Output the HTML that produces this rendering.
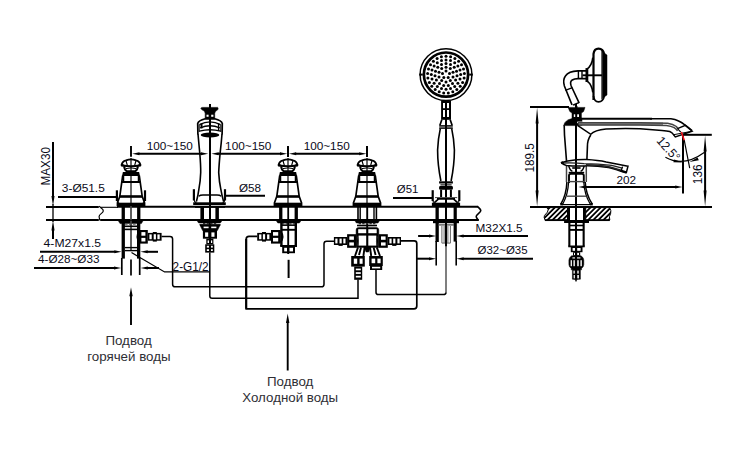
<!DOCTYPE html>
<html lang="ru"><head><meta charset="utf-8"><title>Схема</title>
<style>
html,body{margin:0;padding:0;background:#fff;}
body{width:744px;height:453px;overflow:hidden;}
svg{display:block;font-family:"Liberation Sans",sans-serif;}
</style></head><body>
<svg width="744" height="453" viewBox="0 0 744 453">
<rect x="0" y="0" width="744" height="453" fill="#fff" stroke="none"/>
<line x1="46" y1="207" x2="98.8" y2="207" stroke="#000" stroke-width="2.0" />
<line x1="100.4" y1="207.3" x2="118" y2="207.3" stroke="#000" stroke-width="1.1" />
<line x1="117" y1="206.7" x2="478" y2="206.7" stroke="#000" stroke-width="1.9" />
<line x1="46" y1="220" x2="98.8" y2="220" stroke="#000" stroke-width="2.0" />
<line x1="100.2" y1="220" x2="478.8" y2="220" stroke="#000" stroke-width="1.9" />
<path d="M99.2 206.2 C100.4 208 103.6 208.6 103.3 211 C103 213.4 99 214 99.1 216.4 C99.2 218 99.6 219 99.9 220.4" stroke="#000" stroke-width="1.2" fill="none" />
<path d="M477.4 206.3 L480.5 209.6 Q481.2 210.6 480.2 211.8 L476.6 215.4 Q475.8 216.6 476.6 217.8 L478.4 220.4" stroke="#000" stroke-width="1.6" fill="none" />
<line x1="53" y1="142" x2="53" y2="198" stroke="#000" stroke-width="2.0" />
<line x1="53" y1="204" x2="53" y2="222" stroke="#000" stroke-width="1.3" />
<polygon points="53,206 51.45,196 54.55,196" fill="#000"/>
<line x1="53" y1="229" x2="53" y2="239" stroke="#000" stroke-width="2.0" />
<polygon points="53,220.6 51.45,230.6 54.55,230.6" fill="#000"/>
<text x="0" y="0" font-size="12.3" textLength="38.3" lengthAdjust="spacingAndGlyphs" fill="#0a0a18" transform="translate(50.4 185.4) rotate(-90)">MAX30</text>
<line x1="131" y1="146" x2="131" y2="156.8" stroke="#000" stroke-width="1.9" />
<line x1="131" y1="158" x2="131" y2="206" stroke="#444" stroke-width="1.6" />
<path d="M121.7 165 Q122 161.6 126 160.4 Q131 158.2 136 160.4 Q140 161.6 140.3 165" stroke="#000" stroke-width="1.8" fill="none" />
<path d="M121.6 165.3 Q131 167.3 140.4 165.3" stroke="#000" stroke-width="2.0" fill="none" />
<circle cx="122.1" cy="165" r="1.5" fill="#000"/><circle cx="139.9" cy="165" r="1.5" fill="#000"/>
<path d="M126 160.6 L127.4 165.6 M136 160.6 L134.6 165.6" stroke="#000" stroke-width="1.2" fill="none" />
<path d="M124.1 166.2 Q124.4 170 127 171.3 H135 Q137.6 170 137.9 166.2" stroke="#000" stroke-width="2.0" fill="none" />
<path d="M126 168.6 Q131 167.2 136 168.6" stroke="#000" stroke-width="1.0" fill="none" />
<polygon points="122.9,171.9 139.1,171.9 140,175.9 122,175.9" fill="#000"/>
<path d="M122.7 175.6 L119.8 196.4 L117.4 203 M139.3 175.6 L142.2 196.4 L144.6 203" stroke="#000" stroke-width="1.7" fill="none" />
<line x1="123.6" y1="175.6" x2="123.6" y2="182" stroke="#000" stroke-width="1.3" />
<line x1="138.4" y1="175.6" x2="138.4" y2="182" stroke="#000" stroke-width="1.3" />
<line x1="121.8" y1="182" x2="140.2" y2="182" stroke="#000" stroke-width="2.0" />
<line x1="120" y1="196.5" x2="142" y2="196.5" stroke="#000" stroke-width="2.6" />
<rect x="116.6" y="202.7" width="28.8" height="3.3" fill="#000"/>
<line x1="116.9" y1="190.3" x2="116.9" y2="201" stroke="#000" stroke-width="2.2" />
<line x1="145" y1="190.3" x2="145" y2="201" stroke="#000" stroke-width="2.2" />
<path d="M116.9 200 q0.4 2.6 2.4 3.6 M145 200 q-0.4 2.6 -2.4 3.6" stroke="#000" stroke-width="1.2" fill="none" />
<rect x="121.6" y="206" width="3.3" height="15" fill="#000"/>
<rect x="137.1" y="206" width="3.3" height="15" fill="#000"/>
<line x1="131" y1="206" x2="131" y2="221" stroke="#444" stroke-width="1.7" />
<path d="M118.2 220.6 H143.2 L141.4 223.6 H120 z" stroke="#000" stroke-width="0.5" fill="#000" />
<rect x="121.6" y="222" width="3.3" height="36.6" fill="#000"/>
<rect x="137" y="222" width="3.3" height="36.6" fill="#000"/>
<line x1="131" y1="221" x2="131" y2="251" stroke="#444" stroke-width="1.7" />
<line x1="125" y1="224.2" x2="137" y2="224.2" stroke="#555" stroke-width="1.0" stroke-dasharray="2.6 1.4"/>
<line x1="124" y1="226.3" x2="138" y2="226.3" stroke="#000" stroke-width="1.6" />
<line x1="124" y1="229.4" x2="138" y2="229.4" stroke="#000" stroke-width="1.6" />
<line x1="125" y1="247.6" x2="137" y2="247.6" stroke="#000" stroke-width="1.4" />
<line x1="125" y1="250.6" x2="137" y2="250.6" stroke="#000" stroke-width="1.4" />
<line x1="121.8" y1="258" x2="121.8" y2="275" stroke="#000" stroke-width="1.7" />
<line x1="139.7" y1="258" x2="139.7" y2="275" stroke="#000" stroke-width="1.7" />
<line x1="131" y1="259.5" x2="131" y2="275.5" stroke="#000" stroke-width="1.7" />
<rect x="139.4" y="230" width="8.4" height="13.6" fill="#000"/>
<rect x="141.4" y="232.1" width="4" height="3.6" fill="#fff"/>
<rect x="141.4" y="237.9" width="4" height="3.6" fill="#fff"/>
<path d="M139.4 231.2 q-4.2 5.6 0 11.2" stroke="#000" stroke-width="1.6" fill="none" />
<rect x="147.8" y="232.9" width="13.8" height="7.8" fill="#000"/>
<rect x="149.4" y="234.4" width="2.3" height="4.8" fill="#fff"/>
<rect x="153.4" y="234.4" width="2.3" height="4.8" fill="#fff"/>
<rect x="157.4" y="234.4" width="2.3" height="4.8" fill="#fff"/>
<rect x="152.8" y="232" width="4" height="9.6" fill="#000"/>
<rect x="153.7" y="234.2" width="2.2" height="5.2" fill="#fff"/>
<text x="61.8" y="192" font-size="11.5" textLength="43" lengthAdjust="spacingAndGlyphs" fill="#0a0a18">3-Ø51.5</text>
<line x1="58" y1="197" x2="117" y2="197" stroke="#000" stroke-width="2.0" />
<text x="43.6" y="247.3" font-size="11.5" textLength="57.5" lengthAdjust="spacingAndGlyphs" fill="#0a0a18">4-M27x1.5</text>
<line x1="40" y1="251.8" x2="115" y2="251.8" stroke="#000" stroke-width="2.0" />
<polygon points="121.6,251.8 114.4,250.25 114.4,253.35" fill="#000"/>
<polygon points="140.4,251.8 147.6,250.25 147.6,253.35" fill="#000"/>
<line x1="147" y1="251.8" x2="158" y2="251.8" stroke="#000" stroke-width="2.0" />
<text x="38" y="262.8" font-size="11.5" textLength="61.5" lengthAdjust="spacingAndGlyphs" fill="#0a0a18">4-Ø28~Ø33</text>
<line x1="34" y1="268" x2="115" y2="268" stroke="#000" stroke-width="2.0" />
<polygon points="121.2,268 114,266.45 114,269.55" fill="#000"/>
<polygon points="140.6,268 147.8,266.45 147.8,269.55" fill="#000"/>
<line x1="147" y1="268" x2="159" y2="268" stroke="#000" stroke-width="2.0" />
<path d="M131.5 252.6 L164.6 271.9 H209.6" stroke="#000" stroke-width="1.2" fill="none" />
<text x="172.6" y="270.6" font-size="12" textLength="36" lengthAdjust="spacingAndGlyphs" fill="#0a0a18">2-G1/2</text>
<line x1="131" y1="294" x2="131" y2="325" stroke="#000" stroke-width="1.9" />
<polygon points="131,287.3 129.3,296.3 132.7,296.3" fill="#000"/>
<line x1="139" y1="153.7" x2="201.5" y2="153.7" stroke="#000" stroke-width="2.0" />
<polygon points="132.2,153.7 139.4,152.15 139.4,155.25" fill="#000"/>
<polygon points="208.2,153.7 201,152.15 201,155.25" fill="#000"/>
<line x1="218" y1="153.7" x2="281" y2="153.7" stroke="#000" stroke-width="2.0" />
<polygon points="211.4,153.7 218.6,152.15 218.6,155.25" fill="#000"/>
<polygon points="287.2,153.7 280,152.15 280,155.25" fill="#000"/>
<line x1="295" y1="153.7" x2="360" y2="153.7" stroke="#000" stroke-width="2.0" />
<polygon points="289,153.7 296.2,152.15 296.2,155.25" fill="#000"/>
<polygon points="366.4,153.7 359.2,152.15 359.2,155.25" fill="#000"/>
<text x="146.8" y="150" font-size="11.5" textLength="46" lengthAdjust="spacingAndGlyphs" fill="#0a0a18">100~150</text>
<text x="225.1" y="150" font-size="11.5" textLength="46.2" lengthAdjust="spacingAndGlyphs" fill="#0a0a18">100~150</text>
<text x="303.7" y="150" font-size="11.5" textLength="46" lengthAdjust="spacingAndGlyphs" fill="#0a0a18">100~150</text>
<line x1="210" y1="104" x2="210" y2="239" stroke="#000" stroke-width="2.0" />
<path d="M200.9 108.6 Q201 107.4 202.4 107.4 H217.6 Q218 107.4 218.1 108.6 Q218 110.2 216.6 110.6 Q214.8 111.6 214.7 113.5 V118 H205.2 V113.5 Q205.2 111.6 203.4 110.6 Q202 110.2 200.9 108.6z" stroke="#000" stroke-width="0.6" fill="#000" />
<rect x="206.5" y="114.7" width="2.1" height="2.1" fill="#fff"/>
<rect x="211.2" y="114.7" width="2.2" height="2.1" fill="#fff"/>
<path d="M197.9 134.4 L197.7 123.4 Q198.6 120.6 205.2 118.8 H214.8 Q221.4 120.6 222.3 123.4 L222.1 134.4" stroke="#000" stroke-width="1.7" fill="none" />
<path d="M199.4 124.6 Q210 119.2 220.6 124.6" stroke="#000" stroke-width="1.2" fill="none" />
<path d="M200.2 127.8 Q210 123.8 219.8 127.8" stroke="#000" stroke-width="1.4" fill="none" />
<path d="M199.4 131.2 Q210 128.2 220.6 131.2" stroke="#000" stroke-width="1.4" fill="none" />
<line x1="201.5" y1="123.4" x2="201.5" y2="128.4" stroke="#000" stroke-width="2.0" />
<line x1="218.6" y1="123.4" x2="218.6" y2="131" stroke="#000" stroke-width="1.4" />
<line x1="199.2" y1="124.6" x2="199.2" y2="132" stroke="#000" stroke-width="1.0" />
<line x1="220.8" y1="124.6" x2="220.8" y2="132" stroke="#000" stroke-width="1.0" />
<ellipse cx="210" cy="135" rx="9.3" ry="2.6" fill="#000"/>
<path d="M198 134 Q198.7 142 199.8 153.3 Q200.8 165 200.7 172.6 Q200.4 182 198.9 189.2 Q198 196 196.4 201.6" stroke="#000" stroke-width="1.6" fill="none" />
<path d="M222 134 Q221.4 142 220.1 153.3 Q219 165 218.7 172.6 Q219.2 182 220.8 189.2 Q222 196 223.6 201.6" stroke="#000" stroke-width="1.6" fill="none" />
<path d="M198.8 196.2 Q200 195 203 195 H217 Q220 195 221.2 196.2" stroke="#000" stroke-width="1.5" fill="none" />
<rect x="193.2" y="202.3" width="32.6" height="2.7" fill="#000"/>
<line x1="195" y1="206.9" x2="225" y2="206.9" stroke="#000" stroke-width="1.8" />
<line x1="193.9" y1="189.2" x2="193.9" y2="200.4" stroke="#000" stroke-width="2.2" />
<line x1="225" y1="189.2" x2="225" y2="200.4" stroke="#000" stroke-width="2.2" />
<path d="M193.9 199.4 q0.4 2.6 2.4 3.6 M225 199.4 q-0.4 2.6 -2.4 3.6" stroke="#000" stroke-width="1.2" fill="none" />
<text x="239" y="191.8" font-size="11.5" textLength="22" lengthAdjust="spacingAndGlyphs" fill="#0a0a18">Ø58</text>
<line x1="225.5" y1="195.8" x2="265" y2="195.8" stroke="#000" stroke-width="2.0" />
<rect x="200.4" y="207" width="3.6" height="14" fill="#000"/>
<rect x="215.4" y="207" width="3.5" height="14" fill="#000"/>
<path d="M197 220.6 H222 L220.4 223 H198.6z" stroke="#000" stroke-width="0.5" fill="#000" />
<line x1="203" y1="223.7" x2="217" y2="223.7" stroke="#333" stroke-width="1.2" stroke-dasharray="2.4 1.2"/>
<rect x="200" y="224.5" width="20.2" height="1.5" fill="#000"/>
<path d="M199.6 224.5 H220.4 L217.4 230.6 H202.6z" stroke="#000" stroke-width="0.5" fill="#000" />
<line x1="203.4" y1="228.2" x2="216.6" y2="228.2" stroke="#000" stroke-width="0.01" />
<rect x="202.9" y="229.7" width="14.1" height="9" fill="#000"/>
<rect x="205.1" y="232.4" width="3.1" height="4.4" fill="#fff"/>
<rect x="211.4" y="232.4" width="3.1" height="4.4" fill="#fff"/>
<rect x="203.6" y="226.6" width="5" height="1.6" fill="#fff"/>
<rect x="211.2" y="226.6" width="5.2" height="1.6" fill="#fff"/>
<rect x="206.3" y="238.7" width="7.1" height="5.6" fill="#000"/>
<rect x="207.6" y="240.4" width="1.4" height="2.6" fill="#fff"/>
<rect x="211" y="240.4" width="1.2" height="2.6" fill="#fff"/>
<rect x="205.2" y="244.3" width="9.1" height="8.3" fill="#000"/>
<rect x="206.8" y="245.8" width="2.2" height="1.8" fill="#fff"/>
<rect x="211" y="245.8" width="1.8" height="1.8" fill="#fff"/>
<rect x="206.8" y="249.2" width="2.2" height="1.8" fill="#fff"/>
<rect x="211" y="249.2" width="1.8" height="1.8" fill="#fff"/>
<path d="M209.8 252.6 V296 q0 2.3 2.3 2.3 H358 V279.5" stroke="#000" stroke-width="1.5" fill="none" />
<line x1="288" y1="146" x2="288" y2="156.8" stroke="#000" stroke-width="1.9" />
<line x1="288" y1="158" x2="288" y2="206" stroke="#444" stroke-width="1.6" />
<path d="M278.7 165 Q279 161.6 283 160.4 Q288 158.2 293 160.4 Q297 161.6 297.3 165" stroke="#000" stroke-width="1.8" fill="none" />
<path d="M278.6 165.3 Q288 167.3 297.4 165.3" stroke="#000" stroke-width="2.0" fill="none" />
<circle cx="279.1" cy="165" r="1.5" fill="#000"/><circle cx="296.9" cy="165" r="1.5" fill="#000"/>
<path d="M283 160.6 L284.4 165.6 M293 160.6 L291.6 165.6" stroke="#000" stroke-width="1.2" fill="none" />
<path d="M281.1 166.2 Q281.4 170 284 171.3 H292 Q294.6 170 294.9 166.2" stroke="#000" stroke-width="2.0" fill="none" />
<path d="M283 168.6 Q288 167.2 293 168.6" stroke="#000" stroke-width="1.0" fill="none" />
<polygon points="279.9,171.9 296.1,171.9 297,175.9 279,175.9" fill="#000"/>
<path d="M279.7 175.6 L276.8 196.4 L274.4 203 M296.3 175.6 L299.2 196.4 L301.6 203" stroke="#000" stroke-width="1.7" fill="none" />
<line x1="280.6" y1="175.6" x2="280.6" y2="182" stroke="#000" stroke-width="1.3" />
<line x1="295.4" y1="175.6" x2="295.4" y2="182" stroke="#000" stroke-width="1.3" />
<line x1="278.8" y1="182" x2="297.2" y2="182" stroke="#000" stroke-width="2.0" />
<line x1="277" y1="196.5" x2="299" y2="196.5" stroke="#000" stroke-width="2.6" />
<rect x="273.6" y="202.7" width="28.8" height="3.3" fill="#000"/>
<rect x="279.1" y="206" width="3.3" height="15" fill="#000"/>
<rect x="294.6" y="206" width="3.3" height="15" fill="#000"/>
<line x1="288.2" y1="206" x2="288.2" y2="221" stroke="#000" stroke-width="1.8" />
<path d="M276.2 220.6 H301 L299.4 223 H277.8z" stroke="#000" stroke-width="0.5" fill="#000" />
<line x1="282" y1="223.8" x2="296" y2="223.8" stroke="#333" stroke-width="1.2" stroke-dasharray="2.4 1.2"/>
<rect x="280.2" y="222" width="2.4" height="24" fill="#000"/>
<rect x="294.6" y="222" width="2.4" height="24" fill="#000"/>
<line x1="282" y1="225.2" x2="295" y2="225.2" stroke="#000" stroke-width="1.5" />
<line x1="282" y1="229.8" x2="295" y2="229.8" stroke="#000" stroke-width="1.9" />
<line x1="280.2" y1="246" x2="297" y2="246" stroke="#000" stroke-width="2.0" />
<rect x="282.2" y="246" width="12.8" height="7.2" fill="#000"/>
<rect x="284.2" y="247.8" width="2.8" height="3.6" fill="#fff"/>
<rect x="289.4" y="247.8" width="3.6" height="3.6" fill="#fff"/>
<line x1="288.2" y1="221" x2="288.2" y2="254" stroke="#000" stroke-width="1.9" />
<rect x="271" y="230" width="9.6" height="13.6" fill="#000"/>
<rect x="273" y="232.1" width="5.2" height="3.6" fill="#fff"/>
<rect x="273" y="237.9" width="5.2" height="3.6" fill="#fff"/>
<path d="M280.6 231.2 q4.2 5.6 0 11.2" stroke="#000" stroke-width="1.6" fill="none" />
<rect x="257.2" y="232.9" width="13.8" height="7.8" fill="#000"/>
<rect x="267.1" y="234.4" width="2.3" height="4.8" fill="#fff"/>
<rect x="263.1" y="234.4" width="2.3" height="4.8" fill="#fff"/>
<rect x="259.1" y="234.4" width="2.3" height="4.8" fill="#fff"/>
<rect x="262" y="232" width="4" height="9.6" fill="#000"/>
<rect x="262.9" y="234.2" width="2.2" height="5.2" fill="#fff"/>
<line x1="288.6" y1="259.8" x2="288.6" y2="278" stroke="#000" stroke-width="2.0" />
<path d="M257.2 236.3 H249 q-2.8 0 -2.8 2.8 V308.8 H414 q2.8 0 2.8 -2.8 V243.4 q0 -2.6 -2.6 -2.6 H400" stroke="#000" stroke-width="1.7" fill="none" />
<line x1="246.2" y1="239" x2="246.2" y2="308.8" stroke="#000" stroke-width="2.1" />
<path d="M161.5 236.5 H170 q2.6 0 2.6 2.6 V284.2 q0 2.6 2.6 2.6 H321.4 q2.6 0 2.6 -2.6 V243.8 q0 -2.6 2.6 -2.6 H334.4" stroke="#000" stroke-width="1.5" fill="none" />
<line x1="287.7" y1="321" x2="287.7" y2="370.5" stroke="#000" stroke-width="1.9" />
<polygon points="287.7,313.6 286,323.1 289.4,323.1" fill="#000"/>
<line x1="288" y1="146.5" x2="288" y2="157" stroke="#000" stroke-width="1.9" />
<line x1="367" y1="146" x2="367" y2="157" stroke="#000" stroke-width="1.9" />
<line x1="367" y1="146" x2="367" y2="156.8" stroke="#000" stroke-width="1.9" />
<line x1="367" y1="158" x2="367" y2="206" stroke="#444" stroke-width="1.6" />
<path d="M357.7 165 Q358 161.6 362 160.4 Q367 158.2 372 160.4 Q376 161.6 376.3 165" stroke="#000" stroke-width="1.8" fill="none" />
<path d="M357.6 165.3 Q367 167.3 376.4 165.3" stroke="#000" stroke-width="2.0" fill="none" />
<circle cx="358.1" cy="165" r="1.5" fill="#000"/><circle cx="375.9" cy="165" r="1.5" fill="#000"/>
<path d="M362 160.6 L363.4 165.6 M372 160.6 L370.6 165.6" stroke="#000" stroke-width="1.2" fill="none" />
<path d="M360.1 166.2 Q360.4 170 363 171.3 H371 Q373.6 170 373.9 166.2" stroke="#000" stroke-width="2.0" fill="none" />
<path d="M362 168.6 Q367 167.2 372 168.6" stroke="#000" stroke-width="1.0" fill="none" />
<polygon points="358.9,171.9 375.1,171.9 376,175.9 358,175.9" fill="#000"/>
<path d="M358.7 175.6 L355.8 196.4 L353.4 203 M375.3 175.6 L378.2 196.4 L380.6 203" stroke="#000" stroke-width="1.7" fill="none" />
<line x1="359.6" y1="175.6" x2="359.6" y2="182" stroke="#000" stroke-width="1.3" />
<line x1="374.4" y1="175.6" x2="374.4" y2="182" stroke="#000" stroke-width="1.3" />
<line x1="357.8" y1="182" x2="376.2" y2="182" stroke="#000" stroke-width="2.0" />
<line x1="356" y1="196.5" x2="378" y2="196.5" stroke="#000" stroke-width="2.6" />
<rect x="352.6" y="202.7" width="28.8" height="3.3" fill="#000"/>
<line x1="358" y1="206" x2="358" y2="221" stroke="#000" stroke-width="1.6" />
<line x1="360.2" y1="206" x2="360.2" y2="221" stroke="#000" stroke-width="1.4" />
<line x1="367.2" y1="206" x2="367.2" y2="228" stroke="#000" stroke-width="1.9" />
<line x1="374" y1="206" x2="374" y2="221" stroke="#000" stroke-width="1.4" />
<line x1="376.4" y1="206" x2="376.4" y2="221" stroke="#000" stroke-width="1.6" />
<path d="M354.8 220.6 H379.6 L378 223 H356.4z" stroke="#000" stroke-width="0.5" fill="#000" />
<line x1="358.6" y1="223.7" x2="375.8" y2="223.7" stroke="#333" stroke-width="1.2" stroke-dasharray="2.4 1.2"/>
<line x1="357" y1="225.5" x2="377" y2="225.5" stroke="#000" stroke-width="1.6" />
<path d="M356.1 247.4 V230 q0 -2.6 2.6 -2.6 H376.2 q2.6 0 2.6 2.6 V247.4 z" stroke="#000" stroke-width="0.5" fill="#000" />
<rect x="358.2" y="229.2" width="8" height="4" fill="#fff"/>
<rect x="368.3" y="229.2" width="8.4" height="4" fill="#fff"/>
<rect x="358.6" y="235.6" width="7.6" height="10" fill="#fff"/>
<rect x="368.3" y="235.6" width="8" height="10" fill="#fff"/>
<rect x="347.1" y="234.2" width="9" height="13.6" fill="#000"/>
<rect x="349.3" y="236.4" width="4.6" height="3.4" fill="#fff"/>
<rect x="349.3" y="242.4" width="4.6" height="3.2" fill="#fff"/>
<rect x="333.9" y="237" width="13.2" height="8" fill="#000"/>
<rect x="343.3" y="238.6" width="2.2" height="4.8" fill="#fff"/>
<rect x="339.5" y="238.6" width="2.2" height="4.8" fill="#fff"/>
<rect x="335.3" y="238.6" width="2.2" height="4.8" fill="#fff"/>
<rect x="338.5" y="245" width="4.2" height="0.9" fill="#000"/>
<path d="M357.7 236.6 q1.6 4.6 0 9" stroke="#333" stroke-width="1.0" fill="none" />
<rect x="378.8" y="234.2" width="9" height="13.6" fill="#000"/>
<rect x="381" y="236.4" width="4.6" height="3.4" fill="#fff"/>
<rect x="381" y="242.4" width="4.6" height="3.2" fill="#fff"/>
<rect x="387.8" y="237" width="13.2" height="8" fill="#000"/>
<rect x="389.4" y="238.6" width="2.2" height="4.8" fill="#fff"/>
<rect x="393.2" y="238.6" width="2.2" height="4.8" fill="#fff"/>
<rect x="397.4" y="238.6" width="2.2" height="4.8" fill="#fff"/>
<rect x="392.2" y="245" width="4.2" height="0.9" fill="#000"/>
<path d="M377.2 236.6 q-1.6 4.6 0 9" stroke="#333" stroke-width="1.0" fill="none" />
<path d="M358 247.4 L355 256 M364.6 247.4 L363.4 256 M361 247.6 L359 255" stroke="#000" stroke-width="1.9" fill="none" />
<path d="M376.8 247.4 L380 256 M370 247.4 L371.2 256 M373.6 247.6 L375.6 255" stroke="#000" stroke-width="1.9" fill="none" />
<path d="M364 247 H370.6 L368.6 252 H366 z" stroke="#000" stroke-width="0.5" fill="#000" />
<rect x="351.2" y="256" width="13.6" height="10.6" fill="#000"/>
<rect x="353.8" y="258.6" width="3.4" height="5.2" fill="#fff"/>
<rect x="359.6" y="258.6" width="3" height="5.2" fill="#fff"/>
<rect x="354.2" y="266.6" width="8" height="13.2" fill="#000"/>
<rect x="355.8" y="268.6" width="5" height="1.7" fill="#fff"/>
<rect x="355.8" y="272.2" width="5" height="1.7" fill="#fff"/>
<rect x="355.8" y="275.8" width="5" height="1.7" fill="#fff"/>
<rect x="369.2" y="256" width="13.6" height="10" fill="#000"/>
<rect x="371.6" y="258.6" width="3.6" height="4.6" fill="#fff"/>
<rect x="377.4" y="258.6" width="3.2" height="4.6" fill="#fff"/>
<rect x="370" y="266" width="12.2" height="4" fill="#000"/>
<rect x="372" y="266.8" width="8.2" height="1.6" fill="#fff"/>
<path d="M376 270 V292.2 q0 2.4 2.4 2.4 H443.6 q2.4 0 2.4 -2.4" stroke="#000" stroke-width="1.5" fill="none" />
<circle cx="446" cy="74.6" r="25.9" stroke="#000" stroke-width="1.5" fill="none"/>
<circle cx="446" cy="74.6" r="22.1" stroke="#000" stroke-width="2.7" fill="none"/>
<line x1="419.2" y1="74.6" x2="422.8" y2="74.6" stroke="#000" stroke-width="2.0" />
<line x1="469.2" y1="74.6" x2="472.8" y2="74.6" stroke="#000" stroke-width="2.0" />
<g fill="#000"><circle cx="446.0" cy="70.9" r="1.5"/><circle cx="449.5" cy="73.5" r="1.5"/><circle cx="448.2" cy="77.6" r="1.5"/><circle cx="443.8" cy="77.6" r="1.5"/><circle cx="442.5" cy="73.5" r="1.5"/><circle cx="446.0" cy="67.2" r="1.5"/><circle cx="450.3" cy="68.6" r="1.5"/><circle cx="453.0" cy="72.3" r="1.5"/><circle cx="453.0" cy="76.9" r="1.5"/><circle cx="450.3" cy="80.6" r="1.5"/><circle cx="446.0" cy="82.0" r="1.5"/><circle cx="441.7" cy="80.6" r="1.5"/><circle cx="439.0" cy="76.9" r="1.5"/><circle cx="439.0" cy="72.3" r="1.5"/><circle cx="441.7" cy="68.6" r="1.5"/><circle cx="446.0" cy="63.6" r="1.5"/><circle cx="450.5" cy="64.5" r="1.5"/><circle cx="454.2" cy="67.2" r="1.5"/><circle cx="456.5" cy="71.2" r="1.5"/><circle cx="457.0" cy="75.8" r="1.5"/><circle cx="455.6" cy="80.1" r="1.5"/><circle cx="452.5" cy="83.5" r="1.5"/><circle cx="448.3" cy="85.4" r="1.5"/><circle cx="443.7" cy="85.4" r="1.5"/><circle cx="439.5" cy="83.5" r="1.5"/><circle cx="436.4" cy="80.1" r="1.5"/><circle cx="435.0" cy="75.8" r="1.5"/><circle cx="435.5" cy="71.2" r="1.5"/><circle cx="437.8" cy="67.2" r="1.5"/><circle cx="441.5" cy="64.5" r="1.5"/><circle cx="446.0" cy="59.9" r="1.5"/><circle cx="450.5" cy="60.6" r="1.5"/><circle cx="454.7" cy="62.7" r="1.5"/><circle cx="457.9" cy="65.9" r="1.5"/><circle cx="460.0" cy="70.1" r="1.5"/><circle cx="460.7" cy="74.6" r="1.5"/><circle cx="460.0" cy="79.1" r="1.5"/><circle cx="457.9" cy="83.3" r="1.5"/><circle cx="454.7" cy="86.5" r="1.5"/><circle cx="450.5" cy="88.6" r="1.5"/><circle cx="446.0" cy="89.3" r="1.5"/><circle cx="441.5" cy="88.6" r="1.5"/><circle cx="437.3" cy="86.5" r="1.5"/><circle cx="434.1" cy="83.3" r="1.5"/><circle cx="432.0" cy="79.1" r="1.5"/><circle cx="431.3" cy="74.6" r="1.5"/><circle cx="432.0" cy="70.1" r="1.5"/><circle cx="434.1" cy="65.9" r="1.5"/><circle cx="437.3" cy="62.7" r="1.5"/><circle cx="441.5" cy="60.6" r="1.5"/><circle cx="446.0" cy="56.2" r="1.5"/><circle cx="450.6" cy="56.8" r="1.5"/><circle cx="454.9" cy="58.5" r="1.5"/><circle cx="458.6" cy="61.2" r="1.5"/><circle cx="461.5" cy="64.7" r="1.5"/><circle cx="463.5" cy="68.9" r="1.5"/><circle cx="464.4" cy="73.4" r="1.5"/><circle cx="464.1" cy="78.0" r="1.5"/><circle cx="462.6" cy="82.4" r="1.5"/><circle cx="460.2" cy="86.3" r="1.5"/><circle cx="456.8" cy="89.5" r="1.5"/><circle cx="452.8" cy="91.7" r="1.5"/><circle cx="448.3" cy="92.9" r="1.5"/><circle cx="443.7" cy="92.9" r="1.5"/><circle cx="439.2" cy="91.7" r="1.5"/><circle cx="435.2" cy="89.5" r="1.5"/><circle cx="431.8" cy="86.3" r="1.5"/><circle cx="429.4" cy="82.4" r="1.5"/><circle cx="427.9" cy="78.0" r="1.5"/><circle cx="427.6" cy="73.4" r="1.5"/><circle cx="428.5" cy="68.9" r="1.5"/><circle cx="430.5" cy="64.7" r="1.5"/><circle cx="433.4" cy="61.2" r="1.5"/><circle cx="437.1" cy="58.5" r="1.5"/><circle cx="441.4" cy="56.8" r="1.5"/></g>
<rect x="441.1" y="100.4" width="9.9" height="19.4" fill="#000"/>
<rect x="443" y="103" width="2" height="5.2" fill="#fff"/>
<rect x="447" y="103" width="2" height="5.2" fill="#fff"/>
<rect x="443" y="110" width="2" height="7" fill="#fff"/>
<rect x="447" y="110" width="2" height="7" fill="#fff"/>
<line x1="446" y1="100" x2="446" y2="206" stroke="#000" stroke-width="2.0" />
<path d="M441.8 119.8 L439.9 125.3 M450.2 119.8 L452.1 125.3" stroke="#000" stroke-width="1.7" fill="none" />
<line x1="439.2" y1="125.9" x2="452.8" y2="125.9" stroke="#000" stroke-width="1.5" />
<line x1="439.2" y1="128.1" x2="452.8" y2="128.1" stroke="#000" stroke-width="1.5" />
<path d="M440.3 128.6 Q438.2 138 437.6 150 Q437.6 165 440.9 181" stroke="#000" stroke-width="1.6" fill="none" />
<path d="M451.7 128.6 Q453.8 138 454.4 150 Q454.4 165 451.1 181" stroke="#000" stroke-width="1.6" fill="none" />
<rect x="439.1" y="181.3" width="13.8" height="2.2" fill="#000"/>
<line x1="440.4" y1="184.9" x2="451.6" y2="184.9" stroke="#000" stroke-width="1.1" />
<rect x="439.1" y="186" width="13.8" height="3.8" rx="1.2" fill="#000"/>
<line x1="441.1" y1="189.8" x2="441.1" y2="197" stroke="#000" stroke-width="2.0" />
<line x1="450.9" y1="189.8" x2="450.9" y2="197" stroke="#000" stroke-width="2.0" />
<line x1="435" y1="197.6" x2="457.2" y2="197.6" stroke="#444" stroke-width="1.0" />
<path d="M437 198.8 H455 M438.6 198.8 L434.4 202.6 M453.4 198.8 L457.6 202.6" stroke="#000" stroke-width="1.7" fill="none" />
<rect x="431.9" y="202.7" width="28.2" height="3.7" fill="#000"/>
<line x1="432.7" y1="190.2" x2="432.7" y2="201" stroke="#000" stroke-width="2.2" />
<line x1="459.3" y1="190.2" x2="459.3" y2="201" stroke="#000" stroke-width="2.2" />
<path d="M432.7 200 q0.4 2.6 2.4 3.6 M459.3 200 q-0.4 2.6 -2.4 3.6" stroke="#000" stroke-width="1.2" fill="none" />
<text x="396.8" y="192.6" font-size="11.5" textLength="21.5" lengthAdjust="spacingAndGlyphs" fill="#0a0a18">Ø51</text>
<line x1="393" y1="197.9" x2="432.7" y2="197.9" stroke="#000" stroke-width="2.0" />
<rect x="435.5" y="206" width="3.3" height="36" fill="#000"/>
<rect x="453.6" y="206" width="3.2" height="35.6" fill="#000"/>
<rect x="433" y="219.6" width="26" height="3.6" fill="#000"/>
<line x1="436.2" y1="241" x2="436.2" y2="265.5" stroke="#000" stroke-width="1.6" />
<line x1="456.2" y1="241" x2="456.2" y2="265.5" stroke="#000" stroke-width="1.6" />
<line x1="438.5" y1="224.9" x2="454" y2="224.9" stroke="#555" stroke-width="1.4" />
<path d="M441.9 226 V243.1 H450.4 V226 M444.1 226 V243 M447.9 226 V243" stroke="#666" stroke-width="1.0" fill="none" />
<line x1="446" y1="206" x2="446" y2="246.4" stroke="#000" stroke-width="2.0" />
<line x1="446" y1="246" x2="446" y2="292.4" stroke="#555" stroke-width="1.5" />
<text x="475.6" y="232" font-size="11.5" textLength="47" lengthAdjust="spacingAndGlyphs" fill="#0a0a18">M32X1.5</text>
<line x1="418.1" y1="236" x2="429" y2="236" stroke="#000" stroke-width="2.0" />
<polygon points="436.2,236 429,234.45 429,237.55" fill="#000"/>
<polygon points="456.4,236 463.6,234.45 463.6,237.55" fill="#000"/>
<line x1="463" y1="236" x2="528" y2="236" stroke="#000" stroke-width="2.0" />
<text x="477.6" y="254" font-size="11.5" textLength="50" lengthAdjust="spacingAndGlyphs" fill="#0a0a18">Ø32~Ø35</text>
<line x1="417" y1="258.7" x2="429" y2="258.7" stroke="#000" stroke-width="2.0" />
<polygon points="436.2,258.7 429,257.15 429,260.25" fill="#000"/>
<polygon points="456.4,258.7 463.6,257.15 463.6,260.25" fill="#000"/>
<line x1="463" y1="258.7" x2="533" y2="258.7" stroke="#000" stroke-width="2.0" />
<line x1="530" y1="206.9" x2="712" y2="206.9" stroke="#000" stroke-width="2.0" />
<defs><pattern id="h" width="3.6" height="3.6" patternUnits="userSpaceOnUse" patternTransform="translate(1.2 0) rotate(-45)"><rect width="3.7" height="3.7" fill="#fff"/><line x1="-1" y1="1.8" x2="5" y2="1.8" stroke="#000" stroke-width="1.8"/></pattern></defs>
<path d="M546.8 207.6 H567.5 V220 H545.1 Q543.6 217.6 544.4 215.6 Q548.6 211.6 548.2 209.6z" stroke="#000" stroke-width="1.0" fill="url(#h)" />
<path d="M585.7 207.6 H609.6 q2 3 1 6 q-2 3 -0.8 6.4 H585.7z" stroke="#000" stroke-width="1.0" fill="url(#h)" />
<line x1="544.8" y1="220.2" x2="567.5" y2="220.2" stroke="#000" stroke-width="1.7" />
<line x1="585.7" y1="220.2" x2="609.8" y2="220.2" stroke="#000" stroke-width="1.7" />
<rect x="567.5" y="206" width="2.5" height="15" fill="#000"/>
<rect x="583" y="206" width="2.7" height="15" fill="#000"/>
<line x1="576" y1="104" x2="576" y2="256" stroke="#000" stroke-width="2.0" />
<rect x="564.1" y="220" width="24.9" height="3" fill="#000"/>
<rect x="568.3" y="222" width="2.1" height="24.5" fill="#000"/>
<rect x="582.6" y="222" width="2.1" height="24.5" fill="#000"/>
<line x1="569" y1="225.5" x2="584" y2="225.5" stroke="#000" stroke-width="1.6" />
<line x1="569" y1="229.9" x2="584" y2="229.9" stroke="#000" stroke-width="1.9" />
<line x1="568.3" y1="246.4" x2="584.7" y2="246.4" stroke="#000" stroke-width="1.8" />
<rect x="570.8" y="246.5" width="11.7" height="5.7" fill="#000"/>
<rect x="572.6" y="248" width="2.4" height="2.8" fill="#fff"/>
<rect x="577.2" y="248" width="3.4" height="2.8" fill="#fff"/>
<rect x="573" y="252.2" width="7.2" height="3.6" fill="#000"/>
<rect x="574" y="253" width="1" height="2" fill="#fff"/>
<rect x="577.2" y="253" width="1.8" height="2" fill="#fff"/>
<path d="M571.6 255.8 H581 Q583.8 257.6 583.8 260 V264.6 Q583.8 267 581.6 268.2 V269.8 H580.4 V279.2 L577 279.4 L576 281.6 L575 279.4 L572.4 279.2 V269.8 H571.2 V268.2 Q568.9 267 568.9 264.6 V260 Q568.9 257.6 571.6 255.8z" stroke="#000" stroke-width="0.5" fill="#000" />
<rect x="572.4" y="257.2" width="2.6" height="1.4" fill="#ccc"/>
<rect x="577" y="257.2" width="3.4" height="1.4" fill="#ccc"/>
<rect x="570.6" y="260.2" width="1.4" height="6" fill="#eee"/>
<rect x="573.4" y="260.2" width="1.5" height="6" fill="#eee"/>
<rect x="577.2" y="260.2" width="1.6" height="6" fill="#eee"/>
<rect x="580.4" y="260.2" width="1.5" height="6" fill="#eee"/>
<rect x="573.4" y="270.6" width="1.5" height="3" fill="#ddd"/>
<rect x="577.2" y="270.6" width="1.6" height="3" fill="#ddd"/>
<rect x="573.6" y="275" width="1.4" height="3.4" fill="#ddd"/>
<rect x="577.2" y="275" width="1.8" height="3.4" fill="#ddd"/>
<line x1="566.5" y1="166" x2="566.5" y2="182" stroke="#444" stroke-width="1.5" />
<line x1="586.3" y1="166" x2="586.3" y2="182" stroke="#444" stroke-width="1.5" />
<path d="M569 183 V175.6 Q569 173.9 570.8 173.9 H582 Q583.8 173.9 583.8 175.6 V183" stroke="#000" stroke-width="1.9" fill="none" />
<path d="M566.9 182 C566.6 190 565 197 560.9 204 M585.2 182 C585.6 190 587.6 197 592.2 204" stroke="#000" stroke-width="1.5" fill="none" />
<path d="M568.6 182 C568.2 190 566.6 197 562.8 204 M583.8 182 C584.2 190 586 197 590.2 204" stroke="#000" stroke-width="1.3" fill="none" />
<line x1="568.4" y1="181.6" x2="584.4" y2="181.6" stroke="#444" stroke-width="1.4" />
<line x1="567" y1="196.2" x2="586.4" y2="196.2" stroke="#444" stroke-width="1.4" />
<line x1="562" y1="204.6" x2="591" y2="204.6" stroke="#000" stroke-width="1.2" />
<rect x="560.2" y="203" width="2.6" height="2.4" fill="#000"/>
<rect x="590.2" y="203" width="2.6" height="2.4" fill="#000"/>
<path d="M561.6 162.6 Q565 161.4 567.6 160.9 Q578 159.4 586.4 159.6 Q598 160.2 606.2 162 Q616 163.8 628 166.2 L626.4 172.4 L621 171.2 Q612 168 608.4 167.5 Q596 165.6 584.2 165.9 Q574 166.2 566.5 165.4 Q563 164.8 561.6 162.6z" stroke="#000" stroke-width="1.5" fill="none" />
<path d="M563 163 Q575 162.6 584 163.6 Q598 163.6 611.7 165.4 Q618 166.8 622 168.2" stroke="#222" stroke-width="1.4" fill="none" />
<path d="M586 164.8 Q600 165 610 167 L621 170.2" stroke="#222" stroke-width="1.6" fill="none" />
<path d="M621 171.2 L622.6 166.6" stroke="#000" stroke-width="1.3" fill="none" />
<path d="M620.8 170.6 L626.6 172.6" stroke="#000" stroke-width="2.2" fill="none" />
<circle cx="562.4" cy="162.8" r="1.5" fill="#000"/>
<path d="M568.7 166 Q570 170.6 572.4 171.2 M584.2 166 Q583 170.6 580.6 171.2" stroke="#000" stroke-width="1.4" fill="none" />
<line x1="568.7" y1="172.6" x2="584.2" y2="172.6" stroke="#000" stroke-width="1.6" />
<line x1="572.2" y1="168" x2="580.6" y2="168" stroke="#000" stroke-width="1.6" />
<path d="M564.2 125.3 L564.5 135 L566.5 160.9" stroke="#000" stroke-width="1.6" fill="none" />
<path d="M590.8 135 Q587.2 140 587.4 147 L586.9 159.8" stroke="#000" stroke-width="1.6" fill="none" />
<path d="M563.7 125.6 Q564.2 122.4 566.5 120.9 Q569.6 119 573.1 118.2 H582 V125.6z" stroke="#000" stroke-width="0.5" fill="#000" />
<rect x="577.2" y="121.6" width="5.2" height="1.6" fill="#fff"/>
<line x1="581" y1="118.8" x2="652" y2="118.8" stroke="#000" stroke-width="2.0" />
<path d="M650 118.8 H670.9 Q675 119.2 678.6 121 Q681.6 122.4 684.2 124.4 Q688.4 127.4 692 130.6" stroke="#000" stroke-width="1.6" fill="none" />
<rect x="579" y="122.4" width="84" height="2.9" fill="#8a8a8a"/>
<path d="M578 122.7 H640 L667.6 123.2 Q673 124 676.4 126.5 L678 128.7" stroke="#444" stroke-width="1.5" fill="none" />
<path d="M578 125.1 H640 L666.5 125.4 Q671.4 126 674.2 127.6 Q676.6 129.2 677.5 131" stroke="#444" stroke-width="1.5" fill="none" />
<path d="M577.5 125.3 L590.8 134.3 Q594.6 130.2 606 129 Q620 128.2 640 128.7 L662 130.4 Q667 130.8 669.8 131.5 L672 132.8" stroke="#000" stroke-width="1.5" fill="none" />
<path d="M672 132.8 L675.3 137 L692.2 131.2 L685.3 125.4 L677.5 128.7" stroke="#000" stroke-width="1.4" fill="none" />
<path d="M673.2 134.8 L691.2 131.4" stroke="#000" stroke-width="1.0" fill="none" />
<path d="M677.5 128.7 L680.8 132.2" stroke="#000" stroke-width="1.2" fill="none" />
<path d="M568.1 107.4 H585 L583.6 111.5 L581.4 113.1 V119 H572 V113.1 L569.8 111.5z" stroke="#000" stroke-width="0.5" fill="#000" />
<rect x="573.8" y="114.3" width="1.4" height="2.7" fill="#fff"/>
<rect x="577.2" y="114.3" width="1.8" height="2.7" fill="#fff"/>
<path d="M572 104.9 L564.4 86 Q562.6 80 565.4 76 Q568.6 71.2 578 70.9 H586" stroke="#000" stroke-width="1.6" fill="none" />
<path d="M579.2 103.2 L571.2 86 Q569.6 81.6 572.2 80 Q574.4 78.6 578 78.6 H586" stroke="#000" stroke-width="1.6" fill="none" />
<line x1="565.4" y1="90.3" x2="572.4" y2="87.6" stroke="#000" stroke-width="1.4" />
<line x1="572.8" y1="105.2" x2="578.8" y2="102.6" stroke="#000" stroke-width="1.4" />
<line x1="578.4" y1="70.9" x2="578.4" y2="78.6" stroke="#000" stroke-width="1.4" />
<line x1="582" y1="70.9" x2="582" y2="78.6" stroke="#000" stroke-width="1.4" />
<line x1="574.6" y1="104.6" x2="577.6" y2="107.4" stroke="#000" stroke-width="1.2" />
<line x1="586.9" y1="68.1" x2="586.9" y2="82" stroke="#000" stroke-width="2.8" />
<path d="M586.9 69.2 Q592 65.4 592.8 57.6 M586.9 80.8 Q592 84.6 592.8 92.4" stroke="#000" stroke-width="1.6" fill="none" />
<path d="M593.5 100 V54 Q594.2 48.7 598.5 48.7 Q603.2 48.7 604.4 54.6" stroke="#000" stroke-width="2.2" fill="none" />
<path d="M593.5 96 Q594.2 101.8 598.5 101.8 Q603.2 101.8 604.4 95.6" stroke="#000" stroke-width="1.7" fill="none" />
<path d="M602 50.6 V99.4" stroke="#000" stroke-width="1.2" fill="none" />
<path d="M602.6 52 L607 55 V95 L602.6 98z" stroke="#000" stroke-width="0.5" fill="#000" />
<line x1="582.5" y1="75.3" x2="602" y2="75.3" stroke="#000" stroke-width="1.9" />
<line x1="530" y1="107.1" x2="569" y2="107.1" stroke="#000" stroke-width="2.0" />
<line x1="537.1" y1="122" x2="537.1" y2="191" stroke="#000" stroke-width="2.0" />
<polygon points="537.1,107.6 535.6,123.6 538.6,123.6" fill="#000"/>
<polygon points="537.1,206.4 535.6,190.4 538.6,190.4" fill="#000"/>
<text x="0" y="0" font-size="12.6" textLength="29.2" lengthAdjust="spacingAndGlyphs" fill="#0a0a18" transform="translate(534.4 172.5) rotate(-90)">189.5</text>
<text x="616.4" y="183.6" font-size="11.5" textLength="19.6" lengthAdjust="spacingAndGlyphs" fill="#0a0a18">202</text>
<line x1="585" y1="187" x2="676" y2="187" stroke="#000" stroke-width="2.0" />
<polygon points="578.4,187 585.6,185.45 585.6,188.55" fill="#000"/>
<polygon points="682.4,187 675.2,185.45 675.2,188.55" fill="#000"/>
<line x1="683" y1="135" x2="683" y2="193.6" stroke="#000" stroke-width="2.0" />
<line x1="683" y1="134.8" x2="711.8" y2="134.8" stroke="#000" stroke-width="2.0" />
<line x1="705.1" y1="150" x2="705.1" y2="191" stroke="#000" stroke-width="2.0" />
<polygon points="705.1,135.4 703.6,151.4 706.6,151.4" fill="#000"/>
<polygon points="705.1,206.4 703.6,190.4 706.6,190.4" fill="#000"/>
<text x="0" y="0" font-size="13" textLength="19.9" lengthAdjust="spacingAndGlyphs" fill="#0a0a18" transform="translate(702 184.2) rotate(-90)">136</text>
<line x1="684.2" y1="140" x2="689.7" y2="168.2" stroke="#000" stroke-width="1.2" />
<path d="M665.4 157.2 Q683.4 167.6 704.6 152.2" stroke="#000" stroke-width="1.2" fill="none" />
<polygon points="682.6,162.6 673.4,162.2 674.2,159.4" fill="#000"/>
<polygon points="689.4,162 697.6,157.6 698.8,160.2" fill="#000"/>
<text x="0" y="0" font-size="12.4" textLength="28" lengthAdjust="spacingAndGlyphs" fill="#0a0a18" transform="translate(655.9 141.2) rotate(48)">12.5°</text>
<line x1="681.4" y1="132" x2="684.2" y2="140.3" stroke="#f0101a" stroke-width="1.6" />
<text x="105.4" y="345.3" font-size="13" textLength="46.4" lengthAdjust="spacingAndGlyphs" fill="#2e2e34">Подвод</text>
<text x="87.2" y="361" font-size="13" textLength="83.4" lengthAdjust="spacingAndGlyphs" fill="#2e2e34">горячей воды</text>
<text x="267" y="385.8" font-size="13" textLength="46.4" lengthAdjust="spacingAndGlyphs" fill="#2e2e34">Подвод</text>
<text x="242.3" y="401.6" font-size="13" textLength="95.8" lengthAdjust="spacingAndGlyphs" fill="#2e2e34">Холодной воды</text>
</svg>
</body></html>
